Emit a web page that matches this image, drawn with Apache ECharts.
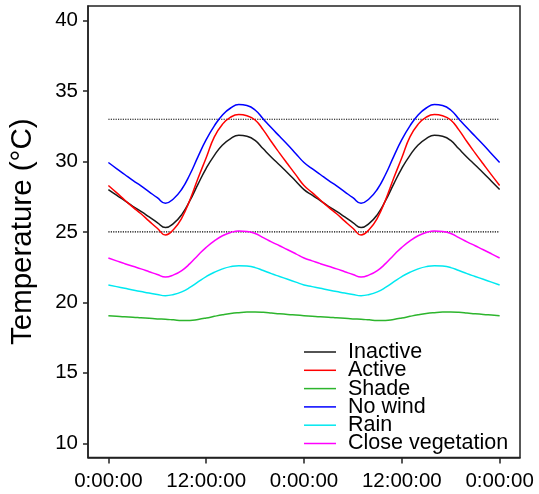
<!DOCTYPE html>
<html>
<head>
<meta charset="utf-8">
<script src="https://cdn.jsdelivr.net/npm/echarts@6/dist/echarts.min.js"></script>
<style>
  html, body { margin: 0; padding: 0; background: #fff; }
  #chart { width: 539px; height: 494px; }
</style>
</head>
<body>
<div id="chart"></div>
<script>
// Hours since the start of the simulation (two days, hourly)
const hours = [0,1,2,3,4,5,6,7,8,9,10,11,12,13,14,15,16,17,18,19,20,21,22,23,24,
  25,26,27,28,29,30,31,32,33,34,35,36,37,38,39,40,41,42,43,44,45,46,47,48];

const tickHours = [0, 12, 24, 36, 48];
const tickLabels = ['0:00:00', '12:00:00', '0:00:00', '12:00:00', '0:00:00'];
const yTicks = [10, 15, 20, 25, 30, 35, 40];
const thresholds = [33, 25];

const seriesNames = ['Inactive', 'Active', 'Shade', 'No wind', 'Rain', 'Close vegetation'];
const seriesColors = ['#1a1a1a', '#ff0000', '#2db52d', '#0000ff', '#00e8f0', '#ff00ff'];

// Operative temperature (°C) per scenario
const inactive = [28.01,27.61,27.22,26.82,26.46,26.07,25.67,25.31,25.61,26.23,27.22,28.40,29.52,30.44,31.17,31.63,31.86,31.79,31.50,30.90,30.31,29.75,29.19,28.60,28.01,
  27.61,27.22,26.82,26.46,26.07,25.67,25.31,25.61,26.23,27.22,28.40,29.52,30.44,31.17,31.63,31.86,31.79,31.50,30.90,30.31,29.75,29.19,28.60,28.01];
const active = [28.30,27.79,27.27,26.76,26.29,25.77,25.26,24.79,25.18,25.99,27.27,28.81,30.27,31.75,32.65,33.15,33.33,33.25,32.95,32.25,31.40,30.60,29.82,29.05,28.30,
  27.79,27.27,26.76,26.29,25.77,25.26,24.79,25.18,25.99,27.27,28.81,30.27,31.75,32.65,33.15,33.33,33.25,32.95,32.25,31.40,30.60,29.82,29.05,28.30];
const shade = [19.06,19.02,18.98,18.95,18.91,18.87,18.83,18.80,18.76,18.72,18.72,18.79,18.89,19.01,19.12,19.21,19.27,19.31,19.32,19.30,19.25,19.19,19.14,19.10,19.06,
  19.02,18.98,18.95,18.91,18.87,18.83,18.80,18.76,18.72,18.72,18.79,18.89,19.01,19.12,19.21,19.27,19.31,19.32,19.30,19.25,19.19,19.14,19.10,19.06];
const noWind = [29.93,29.50,29.08,28.66,28.27,27.85,27.43,27.04,27.36,28.03,29.08,30.35,31.55,32.53,33.31,33.80,34.04,33.97,33.66,33.02,32.39,31.79,31.19,30.56,29.93,
  29.50,29.08,28.66,28.27,27.85,27.43,27.04,27.36,28.03,29.08,30.35,31.55,32.53,33.31,33.80,34.04,33.97,33.66,33.02,32.39,31.79,31.19,30.56,29.93];
const rain = [21.24,21.12,21.00,20.88,20.77,20.66,20.56,20.48,20.56,20.75,21.06,21.45,21.83,22.14,22.38,22.54,22.61,22.58,22.47,22.26,22.04,21.84,21.64,21.44,21.24,
  21.12,21.00,20.88,20.77,20.66,20.56,20.48,20.56,20.75,21.06,21.45,21.83,22.14,22.38,22.54,22.61,22.58,22.47,22.26,22.04,21.84,21.64,21.44,21.24];
const closeVeg = [23.15,22.95,22.75,22.56,22.38,22.18,21.98,21.80,21.95,22.26,22.75,23.35,23.91,24.37,24.73,24.96,25.07,25.04,24.89,24.60,24.30,24.02,23.74,23.45,23.15,
  22.95,22.75,22.56,22.38,22.18,21.98,21.80,21.95,22.26,22.75,23.35,23.91,24.37,24.73,24.96,25.07,25.04,24.89,24.60,24.30,24.02,23.74,23.45,23.15];

const seriesValues = [inactive, active, shade, noWind, rain, closeVeg];
const FONT = 'Liberation Sans, Arial, Helvetica, sans-serif';

const chart = echarts.init(document.getElementById('chart'), null, { renderer: 'canvas' });

const lineSeries = seriesNames.map((name, i) => ({
  name: name,
  type: 'line',
  data: hours.map((h, k) => [h, seriesValues[i][k]]),
  smooth: 0.5,
  showSymbol: false,
  symbol: 'none',
  lineStyle: { color: seriesColors[i], width: 1.5 },
  itemStyle: { color: seriesColors[i] },
  silent: true,
  z: 3
}));

const refSeries = thresholds.map((t, i) => ({
  name: 'ref' + i,
  type: 'line',
  data: [[tickHours[0], t], [tickHours[tickHours.length - 1], t]],
  showSymbol: false,
  symbol: 'none',
  lineStyle: { color: '#000', width: 1.2, type: [1.2, 1.2] },
  silent: true,
  z: 2
}));

chart.setOption({
  animation: false,
  backgroundColor: '#fff',
  grid: {
    left: 85.5, right: 19, top: 6, bottom: 36.5,
    show: true, borderColor: '#222', borderWidth: 1.5, backgroundColor: 'transparent'
  },
  legend: {
    data: seriesNames,
    orient: 'vertical',
    left: 299,
    top: 336,
    icon: 'rect',
    itemWidth: 32,
    itemHeight: 1.5,
    itemGap: -3.7,
    textStyle: { fontFamily: FONT, fontSize: 21.5, color: '#000', padding: [0, 0, 0, 7] }
  },
  xAxis: {
    type: 'value',
    min: -2.5,
    max: 50.5,
    splitLine: { show: false },
    axisLine: { show: true, onZero: false, lineStyle: { color: '#222', width: 1.5 } },
    axisTick: { show: true, customValues: tickHours, length: 6, lineStyle: { color: '#222', width: 1.5 } },
    axisLabel: {
      customValues: tickHours,
      margin: 13,
      fontFamily: FONT, fontSize: 20.5, color: '#000',
      formatter: v => tickLabels[tickHours.indexOf(v)]
    }
  },
  yAxis: {
    type: 'value',
    min: 8.99,
    max: 41.04,
    name: 'Temperature (°C)',
    nameLocation: 'middle',
    nameGap: 50,
    nameTextStyle: { fontFamily: FONT, fontSize: 29.5, color: '#000' },
    splitLine: { show: false },
    axisLine: { show: true, onZero: false, lineStyle: { color: '#222', width: 1.5 } },
    axisTick: { show: true, customValues: yTicks, length: 5, lineStyle: { color: '#222', width: 1.5 } },
    axisLabel: {
      customValues: yTicks,
      margin: 10,
      fontFamily: FONT, fontSize: 20.5, color: '#000'
    }
  },
  series: refSeries.concat(lineSeries)
});
</script>
</body>
</html>
